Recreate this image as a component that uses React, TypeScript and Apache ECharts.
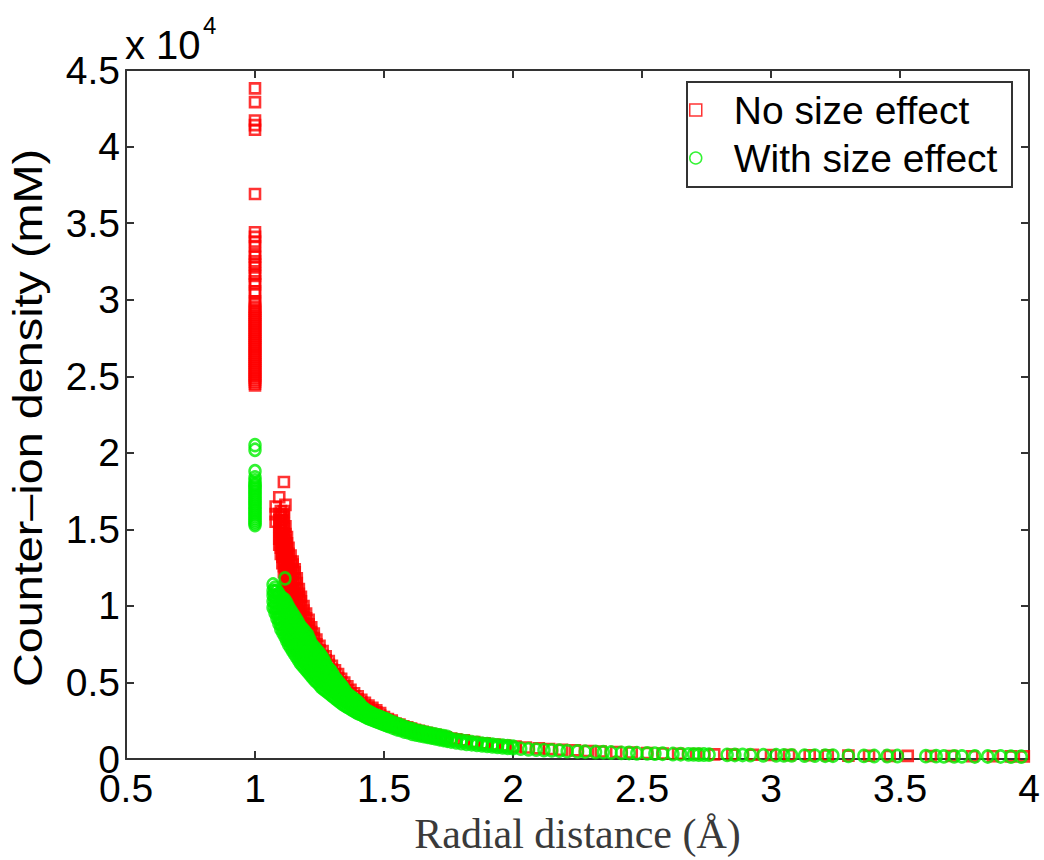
import React, { useEffect, useRef } from "react";
import * as echarts from "echarts";

// Values are counter-ion densities in units of 10^4 mM, radial distances in Å.
const columnRadius = 1.0;

const xTicks = [0.5, 1, 1.5, 2, 2.5, 3, 3.5, 4];
const yTicks = [0, 0.5, 1, 1.5, 2, 2.5, 3, 3.5, 4, 4.5];

const seriesNames = ["No size effect", "With size effect"];

// "No size effect" — points sitting at r = 1 Å
const redColumnValues = [
  4.38, 4.29, 4.17, 4.14, 4.11, 3.69, 3.44, 3.41, 3.38, 3.35, 3.3, 3.28, 3.25,
  3.23, 3.21, 3.17, 3.155, 3.12, 3.1, 3.055, 3.04, 2.99, 2.975, 2.955, 2.94,
  2.928, 2.915, 2.902, 2.89, 2.878, 2.865, 2.852, 2.84, 2.828, 2.815, 2.802,
  2.79, 2.778, 2.765, 2.752, 2.74, 2.728, 2.715, 2.702, 2.69, 2.678, 2.665,
  2.652, 2.64, 2.628, 2.615, 2.602, 2.59, 2.578, 2.565, 2.552, 2.54, 2.528,
  2.515, 2.502, 2.49, 2.478, 2.465, 2.452, 2.44,
];

// "No size effect" — decaying band, rows of [r, densities]
const redCurveRows: [number, number[]][] = [
  [1.08, [1.65, 1.6, 1.55]],
  [1.094, [1.71, 1.6, 1.56, 1.52, 1.48, 1.44, 1.4]],
  [1.1, [1.62, 1.58, 1.54, 1.5, 1.46, 1.42, 1.38, 1.34]],
  [1.106, [1.6, 1.56, 1.52, 1.48, 1.44, 1.4, 1.36, 1.32, 1.28]],
  [1.112, [1.81, 1.62, 1.58, 1.54, 1.5, 1.46, 1.42, 1.38, 1.34, 1.3, 1.26, 1.22]],
  [1.118, [1.66, 1.52, 1.47, 1.43, 1.39, 1.35, 1.31, 1.27, 1.23, 1.19, 1.15]],
  [1.124, [1.45, 1.41, 1.37, 1.33, 1.29, 1.25, 1.21, 1.17, 1.13, 1.09]],
  [1.13, [1.38, 1.34, 1.3, 1.26, 1.22, 1.18, 1.14, 1.1, 1.06, 1.02]],
  [1.138, [1.33, 1.29, 1.25, 1.21, 1.17, 1.13, 1.09, 1.05, 1.01, 0.97]],
  [1.146, [1.29, 1.27, 1.23, 1.19, 1.15, 1.11, 1.07, 1.03, 0.99, 0.95]],
  [1.154, [1.24, 1.22, 1.18, 1.14, 1.1, 1.06, 1.02, 0.98, 0.94]],
  [1.162, [1.18, 1.15, 1.11, 1.07, 1.03, 0.99, 0.95, 0.91]],
  [1.17, [1.11, 1.08, 1.04, 1.0, 0.96, 0.92, 0.88]],
  [1.178, [1.06, 1.03, 0.99, 0.95, 0.91, 0.87]],
  [1.188, [1.0, 0.97, 0.93, 0.89, 0.85, 0.81]],
  [1.198, [0.95, 0.92, 0.88, 0.84, 0.8, 0.76]],
  [1.208, [0.91, 0.88, 0.84, 0.8, 0.76, 0.72]],
  [1.218, [0.86, 0.83, 0.79, 0.75, 0.71]],
  [1.228, [0.82, 0.79, 0.75, 0.71, 0.67]],
  [1.238, [0.78, 0.75, 0.71, 0.67, 0.63]],
  [1.25, [0.74, 0.71, 0.67, 0.63, 0.59]],
  [1.262, [0.705, 0.675, 0.635, 0.595]],
  [1.274, [0.672, 0.645, 0.605, 0.565]],
  [1.286, [0.64, 0.615, 0.575, 0.535]],
  [1.298, [0.61, 0.585, 0.545, 0.505]],
  [1.31, [0.58, 0.555, 0.515, 0.475]],
  [1.322, [0.555, 0.53, 0.49, 0.45]],
  [1.334, [0.525, 0.5, 0.465, 0.43]],
  [1.346, [0.5, 0.475, 0.44, 0.405]],
  [1.358, [0.475, 0.45, 0.42, 0.385]],
  [1.37, [0.452, 0.43, 0.4, 0.37]],
  [1.384, [0.43, 0.41, 0.38, 0.35]],
  [1.398, [0.41, 0.39, 0.36, 0.33]],
  [1.412, [0.388, 0.37, 0.345, 0.315]],
  [1.426, [0.368, 0.35, 0.325, 0.3]],
  [1.44, [0.35, 0.335, 0.31, 0.285]],
  [1.455, [0.335, 0.32, 0.295, 0.27]],
  [1.47, [0.318, 0.305, 0.28, 0.26]],
  [1.485, [0.3, 0.285, 0.265, 0.245]],
  [1.5, [0.275, 0.26, 0.24]],
  [1.515, [0.262, 0.25, 0.23]],
  [1.53, [0.252, 0.24, 0.22]],
  [1.545, [0.232, 0.212]],
  [1.56, [0.225, 0.205]],
  [1.575, [0.215, 0.198]],
  [1.59, [0.207, 0.19]],
  [1.605, [0.2, 0.182]],
  [1.62, [0.192, 0.175]],
  [1.635, [0.185, 0.17]],
  [1.65, [0.178, 0.163]],
  [1.665, [0.172, 0.158]],
  [1.68, [0.165, 0.15]],
  [1.7, [0.158, 0.145]],
  [1.72, [0.15, 0.138]],
  [1.74, [0.142]],
  [1.76, [0.135]],
];

// "No size effect" — long tail, [r, density]
const redTail: [number, number][] = [
  [1.78, 0.13], [1.81, 0.122], [1.85, 0.112], [1.89, 0.103], [1.93, 0.095],
  [1.97, 0.088], [2.01, 0.082], [2.05, 0.076], [2.1, 0.07], [2.14, 0.066],
  [2.19, 0.061], [2.24, 0.057], [2.29, 0.053], [2.34, 0.05], [2.4, 0.046],
  [2.46, 0.043], [2.52, 0.04], [2.58, 0.037], [2.64, 0.035], [2.71, 0.033],
  [2.78, 0.031], [2.85, 0.029], [2.93, 0.028], [3.0, 0.027], [3.07, 0.026],
  [3.15, 0.025], [3.22, 0.024], [3.3, 0.023], [3.38, 0.022], [3.46, 0.021],
  [3.53, 0.021], [3.62, 0.02], [3.7, 0.02], [3.78, 0.019], [3.86, 0.019],
  [3.93, 0.018], [3.98, 0.018],
];

// "With size effect" — points sitting at r = 1 Å
const greenColumnValues = [
  2.05, 2.02, 1.88, 1.84, 1.82, 1.8, 1.79, 1.78, 1.768, 1.756, 1.744, 1.732,
  1.72, 1.708, 1.696, 1.684, 1.672, 1.66, 1.648, 1.636, 1.624, 1.612, 1.6,
  1.588, 1.576, 1.564, 1.552, 1.54, 1.528,
];

// "With size effect" — decaying band, rows of [r, densities]
const greenCurveRows: [number, number[]][] = [
  [1.07, [0.99, 1.03, 1.07, 1.1, 1.14]],
  [1.0775, [0.955, 0.99, 1.025, 1.06, 1.095, 1.12]],
  [1.085, [0.92, 0.955, 0.99, 1.025, 1.06, 1.1]],
  [1.0925, [0.885, 0.92, 0.955, 0.99, 1.025, 1.06, 1.08]],
  [1.1, [0.85, 0.885, 0.92, 0.955, 0.99, 1.025, 1.06]],
  [1.108, [0.825, 0.86, 0.895, 0.93, 0.965, 1.0, 1.035, 1.05]],
  [1.116, [0.8, 0.835, 0.87, 0.905, 0.94, 0.975, 1.01, 1.04, 1.18]],
  [1.123, [0.775, 0.81, 0.845, 0.88, 0.915, 0.95, 0.985, 1.02]],
  [1.13, [0.75, 0.785, 0.82, 0.855, 0.89, 0.925, 0.96, 0.995]],
  [1.1375, [0.73, 0.765, 0.8, 0.835, 0.87, 0.905, 0.94, 0.975]],
  [1.145, [0.71, 0.745, 0.78, 0.815, 0.85, 0.885, 0.92, 0.955]],
  [1.1525, [0.69, 0.725, 0.76, 0.795, 0.83, 0.865, 0.9, 0.935]],
  [1.16, [0.67, 0.705, 0.74, 0.775, 0.81, 0.845, 0.88, 0.915]],
  [1.1675, [0.65, 0.685, 0.72, 0.755, 0.79, 0.825, 0.86, 0.895]],
  [1.175, [0.63, 0.665, 0.7, 0.735, 0.77, 0.805, 0.84, 0.87]],
  [1.1825, [0.615, 0.65, 0.685, 0.72, 0.755, 0.79, 0.825, 0.855]],
  [1.19, [0.6, 0.635, 0.67, 0.705, 0.74, 0.775, 0.81, 0.84]],
  [1.1975, [0.585, 0.62, 0.655, 0.69, 0.725, 0.76, 0.795, 0.825]],
  [1.205, [0.57, 0.605, 0.64, 0.675, 0.71, 0.745, 0.78, 0.81]],
  [1.2125, [0.555, 0.59, 0.625, 0.66, 0.695, 0.73, 0.765, 0.78]],
  [1.22, [0.54, 0.575, 0.61, 0.645, 0.68, 0.715, 0.75]],
  [1.2275, [0.525, 0.56, 0.595, 0.63, 0.665, 0.7, 0.735]],
  [1.235, [0.51, 0.545, 0.58, 0.615, 0.65, 0.685, 0.72]],
  [1.2425, [0.5, 0.535, 0.57, 0.605, 0.64, 0.675, 0.705]],
  [1.25, [0.485, 0.52, 0.555, 0.59, 0.625, 0.66, 0.69]],
  [1.2575, [0.47, 0.505, 0.54, 0.575, 0.61, 0.645, 0.672]],
  [1.265, [0.46, 0.495, 0.53, 0.565, 0.6, 0.63, 0.655]],
  [1.2725, [0.45, 0.485, 0.52, 0.555, 0.59, 0.628]],
  [1.28, [0.44, 0.475, 0.51, 0.545, 0.575, 0.6]],
  [1.2875, [0.43, 0.465, 0.5, 0.53, 0.56, 0.588]],
  [1.295, [0.42, 0.455, 0.49, 0.52, 0.55, 0.575]],
  [1.3025, [0.41, 0.445, 0.48, 0.51, 0.553]],
  [1.31, [0.4, 0.435, 0.47, 0.5, 0.53]],
  [1.3175, [0.39, 0.425, 0.46, 0.49, 0.515]],
  [1.325, [0.38, 0.415, 0.445, 0.475, 0.5]],
  [1.3325, [0.37, 0.4, 0.43, 0.46, 0.485]],
  [1.34, [0.36, 0.39, 0.42, 0.45, 0.47]],
  [1.3475, [0.352, 0.382, 0.412, 0.45]],
  [1.355, [0.345, 0.375, 0.405, 0.43]],
  [1.3625, [0.337, 0.367, 0.395, 0.42]],
  [1.37, [0.33, 0.36, 0.385, 0.41]],
  [1.3775, [0.322, 0.352, 0.378, 0.4]],
  [1.385, [0.315, 0.345, 0.37, 0.39]],
  [1.3925, [0.307, 0.337, 0.362, 0.38]],
  [1.4, [0.3, 0.33, 0.355, 0.37]],
  [1.4075, [0.295, 0.322, 0.355]],
  [1.415, [0.29, 0.315, 0.34]],
  [1.4225, [0.282, 0.308, 0.33]],
  [1.43, [0.275, 0.3, 0.32]],
  [1.4375, [0.27, 0.292, 0.312]],
  [1.445, [0.265, 0.285, 0.305]],
  [1.4525, [0.26, 0.28, 0.298]],
  [1.46, [0.255, 0.275, 0.29]],
  [1.4675, [0.25, 0.27, 0.285]],
  [1.475, [0.245, 0.265, 0.28]],
  [1.4825, [0.24, 0.26, 0.275]],
  [1.49, [0.235, 0.255, 0.27]],
  [1.4975, [0.23, 0.25, 0.265]],
  [1.505, [0.225, 0.245, 0.26]],
  [1.5125, [0.22, 0.24, 0.255]],
  [1.52, [0.215, 0.235, 0.25]],
  [1.535, [0.205, 0.225, 0.24]],
  [1.55, [0.195, 0.215, 0.23]],
  [1.565, [0.19, 0.205, 0.22]],
  [1.58, [0.18, 0.195, 0.21]],
  [1.595, [0.175, 0.19, 0.2]],
  [1.61, [0.165, 0.18, 0.195]],
  [1.625, [0.16, 0.175, 0.185]],
  [1.64, [0.155, 0.17, 0.18]],
  [1.655, [0.15, 0.16, 0.175]],
  [1.67, [0.145, 0.155, 0.17]],
  [1.685, [0.14, 0.15, 0.165]],
  [1.7, [0.135, 0.145, 0.16]],
  [1.715, [0.13, 0.14, 0.155]],
  [1.73, [0.125, 0.135, 0.15]],
  [1.745, [0.12, 0.13, 0.145]],
  [1.76, [0.115, 0.13]],
  [1.78, [0.11, 0.125]],
  [1.8, [0.105, 0.12]],
  [1.82, [0.1, 0.115]],
  [1.84, [0.097, 0.11]],
  [1.86, [0.093, 0.105]],
  [1.88, [0.09, 0.1]],
  [1.9, [0.086, 0.097]],
  [1.92, [0.083, 0.094]],
  [1.94, [0.08, 0.09]],
  [1.96, [0.077, 0.087]],
  [1.98, [0.074, 0.084]],
  [2.0, [0.071, 0.081]],
];

// "With size effect" — long tail, [r, density]
const greenTail: [number, number][] = [
  [2.03, 0.068], [2.06, 0.064], [2.09, 0.062], [2.12, 0.059], [2.15, 0.057],
  [2.18, 0.055], [2.21, 0.052], [2.25, 0.05], [2.28, 0.048], [2.32, 0.046],
  [2.35, 0.045], [2.38, 0.043], [2.42, 0.041], [2.45, 0.04], [2.48, 0.038],
  [2.52, 0.037], [2.55, 0.036], [2.58, 0.035], [2.62, 0.033], [2.65, 0.032],
  [2.68, 0.031], [2.7, 0.031], [2.72, 0.03], [2.74, 0.03], [2.76, 0.029],
  [2.83, 0.028], [2.86, 0.027], [2.89, 0.027], [2.92, 0.026], [2.97, 0.025],
  [3.02, 0.025], [3.05, 0.024], [3.08, 0.024], [3.13, 0.023], [3.17, 0.023],
  [3.21, 0.022], [3.24, 0.022], [3.3, 0.021], [3.36, 0.021], [3.4, 0.02],
  [3.45, 0.02], [3.49, 0.02], [3.6, 0.019], [3.64, 0.019], [3.67, 0.018],
  [3.71, 0.018], [3.74, 0.018], [3.79, 0.017], [3.84, 0.017], [3.89, 0.017],
  [3.93, 0.016], [3.97, 0.016],
];

function rowsToPoints(rows: [number, number[]][]): number[][] {
  const out: number[][] = [];
  for (const [x, vs] of rows) for (const v of vs) out.push([x, v]);
  return out;
}

const AXIS_COLOR = "#333";

export default function App() {
  const ref = useRef<HTMLDivElement>(null);

  useEffect(() => {
    const chart = echarts.init(ref.current!, null, { renderer: "svg" });

    const redData = [
      ...redColumnValues.map((v) => [columnRadius, v]),
      ...rowsToPoints(redCurveRows),
      ...redTail,
    ];
    const greenData = [
      ...greenColumnValues.map((v) => [columnRadius, v]),
      ...rowsToPoints(greenCurveRows),
      ...greenTail,
    ];

    const xMin = xTicks[0];
    const xMax = xTicks[xTicks.length - 1];
    const yMin = yTicks[0];
    const yMax = yTicks[yTicks.length - 1];
    const xStep = xTicks[1] - xTicks[0];
    const yStep = yTicks[1] - yTicks[0];

    const axisLine = { show: true, onZero: false, lineStyle: { color: AXIS_COLOR, width: 2 } };
    const axisTick = { show: true, inside: true, length: 8, lineStyle: { color: AXIS_COLOR, width: 2 } };
    const tickFont = { color: "#000", fontSize: 39, fontFamily: "'Liberation Sans', Arial, sans-serif" };

    chart.setOption({
      animation: false,
      backgroundColor: "#fff",
      grid: { left: 126, right: 15, top: 70, bottom: 98, containLabel: false },
      xAxis: [
        {
          type: "value",
          position: "bottom",
          min: xMin,
          max: xMax,
          interval: xStep,
          axisLine,
          axisTick,
          splitLine: { show: false },
          axisLabel: { ...tickFont, margin: 10 },
          name: "Radial distance (Å)",
          nameLocation: "middle",
          nameGap: 31,
          nameTextStyle: { fontFamily: "'Liberation Serif', serif", fontSize: 42, color: "#3a3a3a" },
        },
        {
          type: "value",
          position: "top",
          min: xMin,
          max: xMax,
          interval: xStep,
          axisLine,
          axisTick,
          splitLine: { show: false },
          axisLabel: { show: false },
        },
      ],
      yAxis: [
        {
          type: "value",
          position: "left",
          min: yMin,
          max: yMax,
          interval: yStep,
          axisLine,
          axisTick,
          splitLine: { show: false },
          axisLabel: { ...tickFont, margin: 6 },
        },
        {
          type: "value",
          position: "right",
          min: yMin,
          max: yMax,
          interval: yStep,
          axisLine,
          axisTick,
          splitLine: { show: false },
          axisLabel: { show: false },
        },
      ],
      legend: {
        orient: "vertical",
        left: 689,
        top: 90,
        padding: 0,
        itemWidth: 12,
        itemHeight: 12,
        itemGap: 8,
        z: 10,
        data: seriesNames,
        formatter: (name: string) => `{gap|}${name}`,
        itemStyle: { borderWidth: 1.5 },
        textStyle: {
          fontSize: 39,
          lineHeight: 40,
          fontFamily: "'Liberation Sans', Arial, sans-serif",
          color: "#000",
          rich: { gap: { width: 27 } },
        },
      },
      graphic: [
        {
          type: "rect",
          z: 5,
          shape: { x: 687, y: 82, width: 325, height: 105 },
          style: { fill: "#fff", stroke: AXIS_COLOR, lineWidth: 2 },
        },
        {
          type: "text",
          x: 125,
          y: 45,
          style: {
            text: "x 10",
            font: "40px 'Liberation Sans', Arial, sans-serif",
            fill: "#000",
            textVerticalAlign: "middle",
            verticalAlign: "middle",
          },
        },
        {
          type: "text",
          x: 203,
          y: 25,
          style: {
            text: "4",
            font: "24px 'Liberation Sans', Arial, sans-serif",
            fill: "#000",
            textVerticalAlign: "middle",
            verticalAlign: "middle",
          },
        },
        {
          type: "text",
          x: 28,
          y: 418,
          rotation: Math.PI / 2,
          scaleX: 1.17,
          style: {
            text: "Counter–ion density (mM)",
            font: "40px 'Liberation Sans', Arial, sans-serif",
            fill: "#000",
            textAlign: "center",
            align: "center",
            textVerticalAlign: "middle",
            verticalAlign: "middle",
          },
        },
      ],
      series: [
        {
          name: seriesNames[0],
          type: "scatter",
          xAxisIndex: 0,
          yAxisIndex: 0,
          symbol: "rect",
          symbolSize: 10,
          itemStyle: { color: "rgba(0,0,0,0)", borderColor: "#ff0000", borderWidth: 2.6 },
          emphasis: { disabled: true },
          data: redData,
        },
        {
          name: seriesNames[1],
          type: "scatter",
          xAxisIndex: 0,
          yAxisIndex: 0,
          symbol: "circle",
          symbolSize: [11, 12],
          itemStyle: { color: "rgba(0,0,0,0)", borderColor: "#00f000", borderWidth: 2.6 },
          emphasis: { disabled: true },
          data: greenData,
        },
      ],
    });

    return () => chart.dispose();
  }, []);

  return (
    <div
      ref={ref}
      style={{ position: "absolute", left: 0, top: 0, width: 1044, height: 860 }}
    />
  );
}
